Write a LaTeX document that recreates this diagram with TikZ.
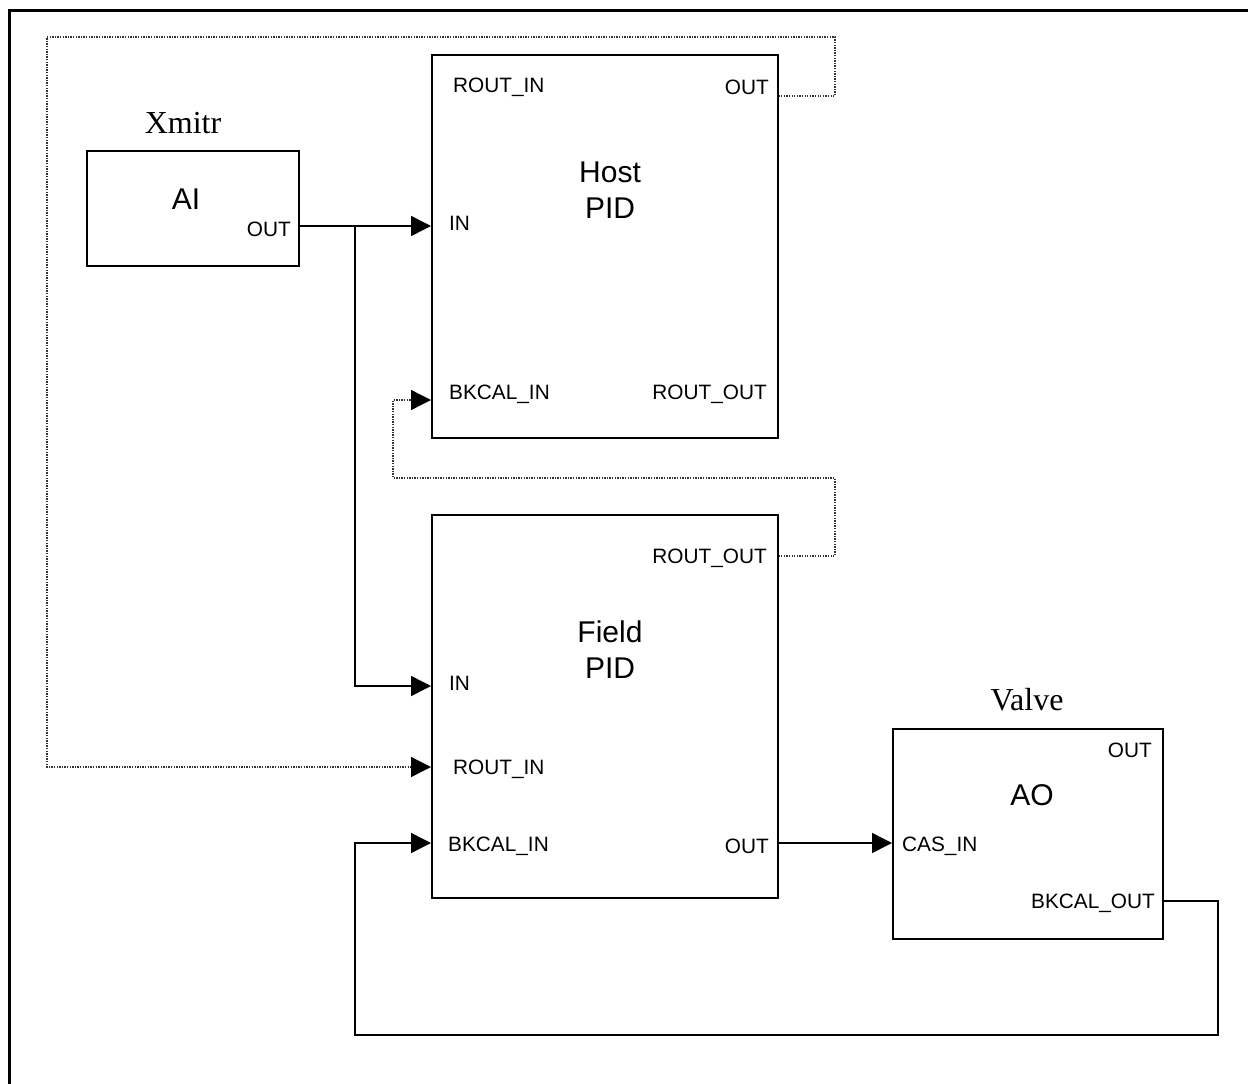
\documentclass[tikz,border=0pt]{standalone}
\usepackage{fontspec}
\setmainfont{Liberation Serif}
\setsansfont{Liberation Sans}
\usepackage{xcolor}
\usepackage{tikz}
\usetikzlibrary{arrows.meta,positioning,calc}
\definecolor{WireDot}{HTML}{333333}

\begin{document}
\begin{tikzpicture}[
  x=1pt, y=-1pt,
  block/.style={draw, line width=1.5pt, inner sep=0pt, anchor=north west},
  title/.style={font=\sffamily\fontsize{30}{36}\selectfont, align=center, inner sep=0pt},
  tag/.style={font=\fontsize{32}{36}\selectfont, inner sep=0pt},
  port/.style={font=\sffamily\fontsize{20.8}{24}\selectfont, inner sep=0pt},
  arrow/.style={-{Triangle[length=20pt,width=20pt]}, line width=1.5pt},
  wire/.style={line width=1.5pt},
  dotarrow/.style={-{Triangle[length=20pt,width=20pt,color=black]}, line width=1.3pt, color=WireDot, dash pattern=on 1.3pt off 1.3pt}
]
\useasboundingbox (0,0) rectangle (1248,1084);
\draw[line width=3pt] (1250,10) -- (9,10) -- (9,1086);

\node[block, minimum width=212pt, minimum height=115pt] (ai) at (86,150) {};
\node[block, minimum width=346pt, minimum height=383pt] (host) at (431,54) {};
\node[block, minimum width=346pt, minimum height=383pt] (field) at (431,514) {};
\node[block, minimum width=270pt, minimum height=210pt] (ao) at (892,728) {};

\node[tag] (xmitr) at (183,123) {Xmitr};
\node[tag] (valve) at (1027,700) {Valve};

\node[title] (ainame) at (186,199) {AI};
\node[title] (hostname) at (610,190) {Host\\PID};
\node[title] (fieldname) at (610,650) {Field\\PID};
\node[title] (aoname) at (1032,795) {AO};

\node[port, anchor=east] (aioutlbl) at (291,229) {OUT};

\node[port, anchor=west] (hostroutinlbl) at (453,87) {ROUT\_IN};
\node[port, anchor=east] (hostoutlbl) at (769,87) {OUT};
\node[port, anchor=west] (hostinlbl) at (449,223) {IN};
\node[port, anchor=west] (hostbklbl) at (449,394) {BKCAL\_IN};
\node[port, anchor=east] (hostroutoutlbl) at (767,394) {ROUT\_OUT};

\node[port, anchor=east] (fieldroutoutlbl) at (767,558) {ROUT\_OUT};
\node[port, anchor=west] (fieldinlbl) at (449,683) {IN};
\node[port, anchor=west] (fieldroutinlbl) at (453,769) {ROUT\_IN};
\node[port, anchor=west] (fieldbklbl) at (448,846) {BKCAL\_IN};
\node[port, anchor=east] (fieldoutlbl) at (769,846) {OUT};

\node[port, anchor=east] (aooutlbl) at (1152,750) {OUT};
\node[port, anchor=west] (aocaslbl) at (902,846) {CAS\_IN};
\node[port, anchor=east] (aobklbl) at (1155,903) {BKCAL\_OUT};

\coordinate (aiOut) at ($(ai.north east)+(0,76)$);
\coordinate (hostOut) at ($(host.north east)+(0,42)$);
\coordinate (hostIn) at ($(host.north west)+(0,172)$);
\coordinate (hostBk) at ($(host.north west)+(0,346)$);
\coordinate (fieldRoutOut) at ($(field.north east)+(0,42)$);
\coordinate (fieldIn) at ($(field.north west)+(0,172)$);
\coordinate (fieldRoutIn) at ($(field.north west)+(0,253)$);
\coordinate (fieldBk) at ($(field.north west)+(0,329)$);
\coordinate (fieldOut) at ($(field.north east)+(0,329)$);
\coordinate (aoCas) at ($(ao.north west)+(0,115)$);
\coordinate (aoBk) at ($(ao.north east)+(0,173)$);
\coordinate (split) at (355,226);

\draw[arrow] (aiOut) -- (hostIn);
\draw[arrow] (split) |- (fieldIn);
\draw[dotarrow] (hostOut) -| (835,37) -- (47,37) |- (fieldRoutIn);
\draw[dotarrow] (fieldRoutOut) -| (835,478) -- (393,478) |- (hostBk);
\draw[arrow] (fieldOut) -- (aoCas);
\draw[arrow] (aoBk) -| (1218,1035) -- (355,1035) |- (fieldBk);
\end{tikzpicture}
\end{document}
